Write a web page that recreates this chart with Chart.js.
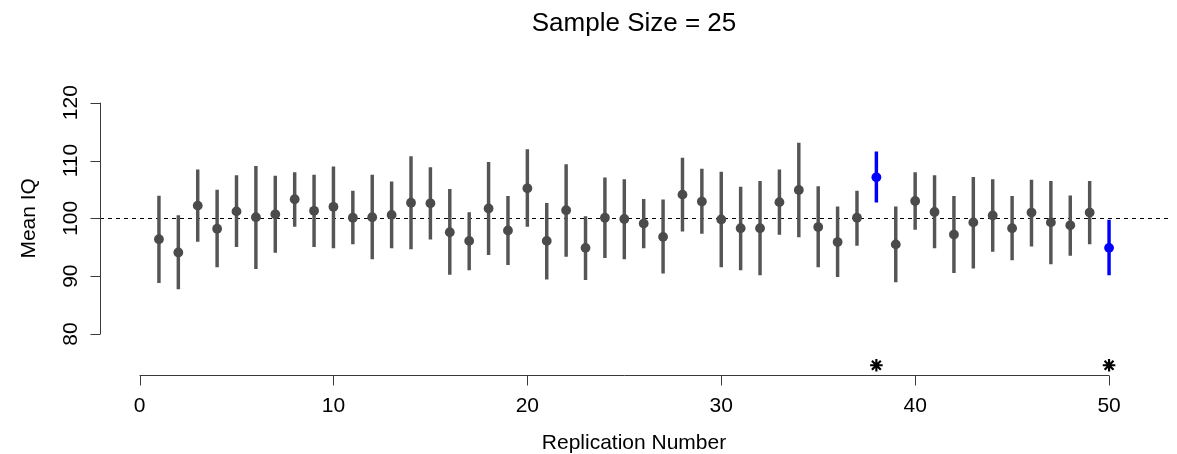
<!DOCTYPE html>
<html>
<head>
<meta charset="utf-8">
<script src="https://cdn.jsdelivr.net/npm/chart.js@4"></script>
<style>
html,body{margin:0;padding:0;background:#fff;}
canvas{display:block;}
</style>
</head>
<body>
<canvas id="c" width="1177" height="454"></canvas>
<script>
// ---- data ----
const replications = Array.from({length: 50}, (_, i) => i + 1);
const means = [96.4,94.1,102.2,98.2,101.2,100.2,100.7,103.3,101.3,102.0,100.1,100.2,
  100.6,102.7,102.6,97.6,96.1,101.7,97.9,105.2,96.1,101.4,94.9,100.1,99.9,
  99.1,96.8,104.1,102.9,99.8,98.3,98.3,102.8,104.9,98.5,95.9,100.1,107.1,
  95.5,103.0,101.1,97.2,99.3,100.5,98.3,101.0,99.3,98.8,101.0,94.9];
const upper = [103.85,100.5,108.4,104.9,107.4,109.0,107.3,107.9,107.5,108.9,104.7,107.5,
  106.3,110.7,108.8,105.0,101.0,109.7,103.8,111.9,102.6,109.3,100.3,107.0,106.7,
  103.3,103.2,110.4,108.5,108.0,105.4,106.4,108.4,113.0,105.5,102.0,104.7,111.5,
  102.0,107.9,107.4,103.8,107.1,106.7,103.8,106.6,106.4,103.9,106.4,99.7];
const lower = [88.9,87.8,96.0,91.6,95.1,91.3,94.1,98.6,95.1,94.9,95.6,93.0,
  94.9,94.7,96.4,90.3,91.1,93.7,92.0,98.6,89.5,93.4,89.4,93.2,93.0,
  94.9,90.5,97.8,97.4,91.6,91.1,90.2,97.2,96.8,91.6,89.9,95.3,102.8,
  89.0,98.1,94.9,90.6,91.4,94.3,92.8,95.2,92.1,93.6,95.6,90.2];
const flagged = [38, 50];          // intervals that miss the true mean
const starLevel = 74.6;            // height of the asterisk markers
const trueMean = 100;
const xTicks = [0, 10, 20, 30, 40, 50];
const yTicks = [80, 90, 100, 110, 120];
const titleText = 'Sample Size = 25';
const xTitle = 'Replication Number';
const yTitle = 'Mean IQ';

const GREY = '#4b4b4b';
const BAR_GREY = '#555555';
const BLUE = '#0000ff';
const FONT = '"Liberation Sans", Arial, Helvetica, sans-serif';
const isFlagged = (ctx) => flagged.includes(replications[ctx.dataIndex]);
const pointColor = (ctx) => isFlagged(ctx) ? BLUE : GREY;
const barColor = (ctx) => isFlagged(ctx) ? BLUE : BAR_GREY;

const intervalData = replications.map((r, i) => ({x: r, y: [lower[i], upper[i]]}));
const meanData = replications.map((r, i) => ({x: r, y: means[i]}));
const starData = flagged.map(r => ({x: r, y: starLevel}));

const rPlot = {
  id: 'rPlot',
  beforeDatasetsDraw(chart) {
    const {ctx, chartArea: a, scales: {y}} = chart;
    ctx.save();
    ctx.strokeStyle = '#000';
    ctx.lineWidth = 1;
    ctx.setLineDash([4, 4]);
    const yp = Math.round(y.getPixelForValue(trueMean)) + 0.5;
    ctx.beginPath(); ctx.moveTo(a.left, yp); ctx.lineTo(a.right, yp); ctx.stroke();
    ctx.restore();
  },
  afterDraw(chart) {
    const {ctx, chartArea: a, scales: {x, y}} = chart;
    ctx.save();
    ctx.strokeStyle = '#3a3a3a';
    ctx.lineWidth = 1;
    // y axis
    const ax = Math.round(a.left) + 0.5;
    const y0 = y.getPixelForValue(yTicks[0]), y1 = y.getPixelForValue(yTicks[yTicks.length - 1]);
    ctx.beginPath(); ctx.moveTo(ax, y0); ctx.lineTo(ax, y1); ctx.stroke();
    ctx.fillStyle = '#000';
    ctx.font = '21px ' + FONT;
    yTicks.forEach(v => {
      const p = Math.round(y.getPixelForValue(v)) + 0.5;
      ctx.beginPath(); ctx.moveTo(ax - 10, p); ctx.lineTo(ax, p); ctx.stroke();
      ctx.save();
      ctx.translate(77, y.getPixelForValue(v));
      ctx.rotate(-Math.PI / 2);
      ctx.textAlign = 'center'; ctx.textBaseline = 'alphabetic';
      ctx.fillText(String(v), 0, 0);
      ctx.restore();
    });
    // x axis
    const ay = Math.round(a.bottom) + 0.5;
    const x0 = x.getPixelForValue(xTicks[0]), x1 = x.getPixelForValue(xTicks[xTicks.length - 1]);
    ctx.beginPath(); ctx.moveTo(x0, ay); ctx.lineTo(x1, ay); ctx.stroke();
    ctx.textAlign = 'center'; ctx.textBaseline = 'alphabetic';
    xTicks.forEach(v => {
      const p = Math.round(x.getPixelForValue(v)) + 0.5;
      ctx.beginPath(); ctx.moveTo(p, ay); ctx.lineTo(p, ay + 10); ctx.stroke();
      ctx.fillText(String(v), x.getPixelForValue(v), 412);
    });
    // titles
    const cx = (a.left + a.right) / 2;
    ctx.fillText(xTitle, cx, 449);
    ctx.save();
    ctx.translate(35, (a.top + a.bottom) / 2);
    ctx.rotate(-Math.PI / 2);
    ctx.fillText(yTitle, 0, 0);
    ctx.restore();
    ctx.font = '26px ' + FONT;
    ctx.fillText(titleText, cx, 31);
    ctx.restore();
  }
};

new Chart(document.getElementById('c'), {
  type: 'bar',
  data: {
    datasets: [
      {
        type: 'scatter',
        data: starData,
        pointStyle: 'star',
        pointRadius: 6.3,
        borderWidth: 2.2,
        borderColor: '#000',
        backgroundColor: '#000',
        order: 0
      },
      {
        type: 'scatter',
        data: meanData,
        pointRadius: 4.9,
        borderWidth: 0,
        backgroundColor: pointColor,
        borderColor: pointColor,
        order: 1
      },
      {
        type: 'bar',
        data: intervalData,
        barThickness: 2.8,
        grouped: false,
        borderWidth: 0,
        borderSkipped: false,
        backgroundColor: barColor,
        order: 2
      }
    ]
  },
  options: {
    responsive: false,
    animation: false,
    events: [],
    layout: {padding: {left: 100, right: 9, top: 62.2, bottom: 79.5}},
    plugins: {legend: {display: false}, tooltip: {enabled: false}, title: {display: false}},
    scales: {
      x: {type: 'linear', min: -2.04, max: 53.04, display: false, offset: false},
      y: {type: 'linear', min: 73, max: 127, display: false}
    }
  },
  plugins: [rPlot]
});
</script>
</body>
</html>
